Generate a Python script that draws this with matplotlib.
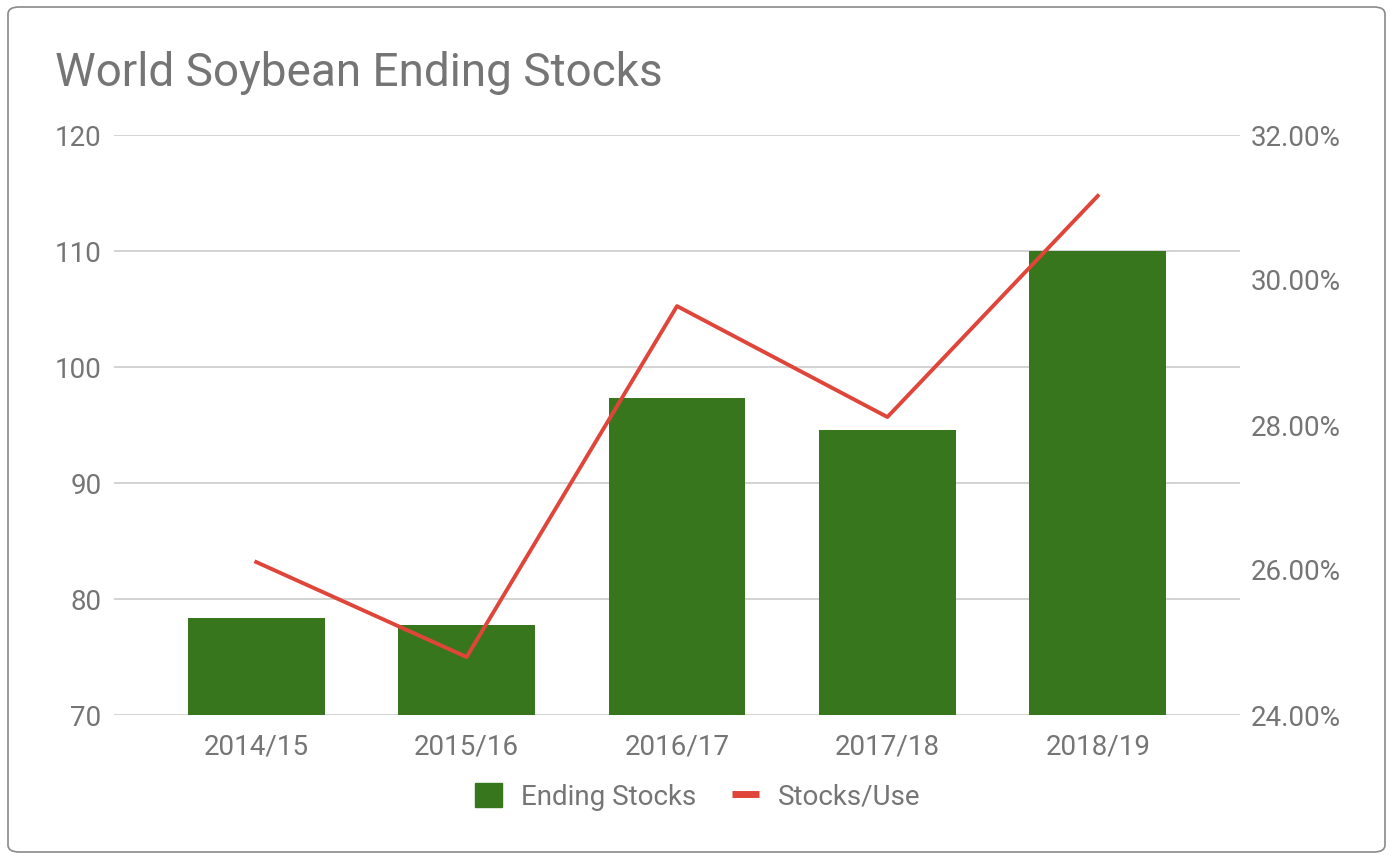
import matplotlib
matplotlib.use("Agg")
import matplotlib.pyplot as plt
from matplotlib.patches import FancyBboxPatch, Patch
from matplotlib.lines import Line2D
from matplotlib.ticker import FuncFormatter

plt.rcParams['font.family'] = ['Roboto', 'DejaVu Sans']

categories = ["2014/15", "2015/16", "2016/17", "2017/18", "2018/19"]
ending_stocks = [78.4, 77.8, 97.3, 94.6, 110.0]
stocks_use = [26.11, 24.80, 29.64, 28.11, 31.16]

GREEN = "#38761d"
RED = "#e0453a"
TEXT = "#757575"
GRID = "#cccccc"

fig = plt.figure(figsize=(13.94, 8.60), dpi=100)
fig.patch.set_facecolor("white")

border = FancyBboxPatch((8/1394, 8/860), (1385-8)/1394, (853-8)/860,
                        boxstyle="round,pad=0,rounding_size=0.008",
                        transform=fig.transFigure, facecolor="none",
                        edgecolor="#8a8a8a", linewidth=1.2, zorder=-1)
fig.patches.append(border)

ax = fig.add_axes([114/1394, 1-715/860, (1240-114)/1394, (715-135)/860])
ax.set_facecolor("none")
x = list(range(len(categories)))
ax.bar(x, ending_stocks, width=0.65, color=GREEN, zorder=2)
ax.set_ylim(70, 120)
ax.set_xlim(-0.676, 4.676)
ax.set_yticks([70, 80, 90, 100, 110, 120])
ax.grid(axis='y', color=GRID, linewidth=1.2, zorder=0)
ax.set_axisbelow(True)
for s in ax.spines.values():
    s.set_visible(False)
ax.tick_params(axis='both', length=0, labelsize=20, colors=TEXT, pad=9)
ax.tick_params(axis='x', pad=13)
ax.set_xticks(x)
ax.set_xticklabels(categories)

ax2 = ax.twinx()
ax2.plot(x, stocks_use, color=RED, linewidth=2.8, zorder=3)
ax2.set_ylim(24, 32)
ax2.set_yticks([24, 26, 28, 30, 32])
ax2.yaxis.set_major_formatter(FuncFormatter(lambda v, p: f"{v:.2f}%"))
for s in ax2.spines.values():
    s.set_visible(False)
ax2.tick_params(axis='y', length=0, labelsize=20, colors=TEXT, pad=8)

fig.text(55/1394, 1-73/860, "World Soybean Ending Stocks", fontsize=33,
         color=TEXT, ha='left', va='center')

handles = [Patch(facecolor=GREEN, edgecolor=GREEN),
           Line2D([0], [0], color=RED, linewidth=5, solid_capstyle='butt')]
leg = fig.legend(handles, ["Ending Stocks", "Stocks/Use"], loc='center',
                 bbox_to_anchor=(698/1394, 1-797/860), ncol=2, frameon=False,
                 fontsize=20, handlelength=0.95, handleheight=0.95,
                 columnspacing=1.3, handletextpad=0.7)
for t in leg.get_texts():
    t.set_color(TEXT)

fig.savefig("out.png", dpi=100)
